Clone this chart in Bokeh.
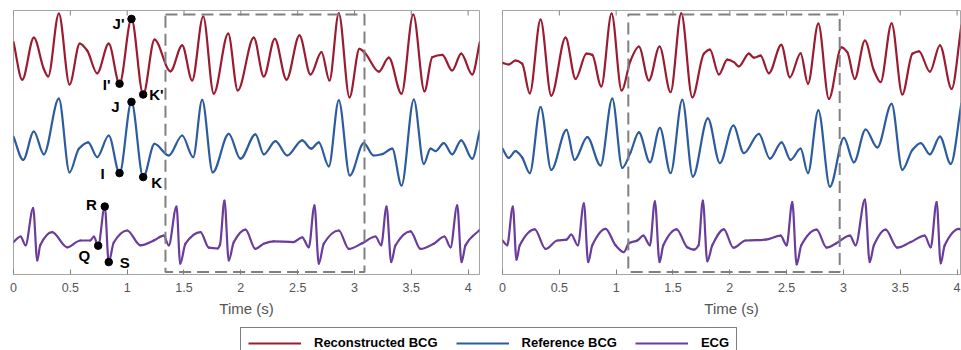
import numpy as np
from bokeh.plotting import figure
from bokeh.models import (Range1d, LinearAxis, FixedTicker, Legend, LegendItem,
                          ColumnDataSource, NumeralTickFormatter)
from bokeh.layouts import column, row
from bokeh.embed import file_html
from bokeh.resources import INLINE
from bokeh.core.properties import value

# ---------------- data (time in s, amplitude in a.u.) ----------------
tick_values = [0, 0.5, 1, 1.5, 2, 2.5, 3, 3.5, 4]

# Left panel
red_left_t = [0.0, 0.077, 0.179, 0.268, 0.305, 0.399, 0.493, 0.583, 0.648, 0.736, 0.838, 0.933, 1.038,
              1.141, 1.241, 1.381, 1.484, 1.572, 1.669, 1.762, 1.889, 1.973, 2.114, 2.202, 2.299, 2.402,
              2.516, 2.613, 2.710, 2.780, 2.862, 2.956, 3.044, 3.097, 3.214, 3.302, 3.414, 3.517, 3.616,
              3.684, 3.772, 3.860, 3.939, 4.036, 4.103]
red_left_a = [0.46, -0.48, 0.57, -0.22, -0.40, 1.17, -0.60, 0.42, 0.25, -0.32, 0.42, -0.58, 1.04,
              -0.85, 0.52, -0.27, 0.38, -0.50, 1.10, -0.83, 0.67, -0.75, 0.57, -0.40, 0.54, -0.48,
              0.63, -0.35, 0.21, -0.50, 1.18, -0.92, 0.29, 0.17, -0.28, 0.07, -0.83, 1.15, -0.77,
              0.08, 0.14, -0.25, 0.17, -0.35, 0.46]

blue_left_t = [0.0, 0.085, 0.179, 0.267, 0.399, 0.493, 0.575, 0.657, 0.736, 0.838, 0.933, 1.038, 1.141,
               1.241, 1.366, 1.484, 1.581, 1.660, 1.753, 1.894, 1.997, 2.129, 2.202, 2.305, 2.408,
               2.540, 2.619, 2.686, 2.774, 2.862, 2.959, 3.082, 3.167, 3.240, 3.332, 3.414, 3.522,
               3.610, 3.669, 3.713, 3.786, 3.860, 3.939, 4.036, 4.103]
blue_left_a = [0.22, -0.36, 0.35, -0.22, 1.17, -0.67, -0.08, 0.08, -0.29, 0.25, -0.69, 1.09, -0.79,
               0.04, -0.25, 0.25, -0.29, 1.14, -0.67, 0.29, -0.33, 0.28, -0.22, 0.11, -0.25,
               0.13, -0.08, 0.08, -0.52, 1.13, -0.75, 0.06, -0.25, -0.22, -0.08, -1.0, 1.15,
               -0.46, -0.08, -0.14, 0.06, -0.22, 0.13, -0.33, 0.38]

ecg_left_t = [0.0, 0.062, 0.106, 0.173, 0.209, 0.235, 0.340, 0.472, 0.589, 0.675, 0.707, 0.745, 0.803,
              0.838, 0.882, 1.000, 1.117, 1.234, 1.322, 1.366, 1.434, 1.467, 1.513, 1.645, 1.718, 1.795,
              1.817, 1.856, 1.894, 1.938, 2.041, 2.129, 2.202, 2.288, 2.463, 2.540, 2.598, 2.648, 2.686,
              2.730, 2.862, 2.950, 3.068, 3.185, 3.235, 3.282, 3.323, 3.361, 3.493, 3.581, 3.698, 3.792,
              3.845, 3.904, 3.942, 3.977, 4.103]
ecg_left_a = [-0.04, 0.10, -0.12, 0.81, -0.50, -0.12, 0.21, -0.17, 0.0, 0.0, 0.10, -0.13, 0.85,
              -0.54, -0.05, 0.25, -0.12, 0.0, 0.12, -0.12, 0.85, -0.58, -0.08, 0.21, -0.18, -0.20,
              -0.10, 1.0, -0.50, -0.04, 0.27, -0.21, -0.08, -0.02, -0.04, 0.08, -0.17, 0.88, -0.58,
              -0.08, 0.25, -0.21, -0.07, 0.10, -0.12, 0.85, -0.54, -0.12, 0.23, -0.21, -0.08, 0.10,
              -0.17, 0.88, -0.54, -0.12, 0.27]

# Right panel
red_right_t = [0.0, 0.055, 0.114, 0.173, 0.240, 0.335, 0.429, 0.555, 0.643, 0.739, 0.790, 0.869, 0.960,
               1.048, 1.127, 1.200, 1.288, 1.382, 1.479, 1.573, 1.670, 1.772, 1.825, 1.904, 1.978,
               2.036, 2.080, 2.168, 2.212, 2.271, 2.344, 2.453, 2.529, 2.623, 2.688, 2.779, 2.872,
               2.982, 3.034, 3.099, 3.189, 3.268, 3.327, 3.424, 3.518, 3.607, 3.665, 3.761, 3.849,
               3.952, 4.038]
red_right_a = [-0.06, -0.10, 0.0, -0.08, -0.82, 1.02, -0.88, 0.57, -0.46, 0.17, 0.14, -0.65, 1.17,
               -0.75, 0.0, 0.35, -0.50, 0.35, -0.79, 1.18, -0.92, 0.17, 0.27, -0.35, 0.02,
               -0.04, -0.15, 0.17, 0.07, 0.12, -0.32, 0.39, -0.42, 0.18, -0.58, 0.92, -0.96,
               0.33, 0.21, -0.46, 0.50, -0.25, -0.54, 0.93, -0.85, 0.17, 0.23, -0.28, 0.38,
               -0.71, 0.88]

blue_right_t = [0.0, 0.055, 0.114, 0.173, 0.240, 0.335, 0.429, 0.563, 0.634, 0.746, 0.863, 0.966,
                1.054, 1.127, 1.200, 1.297, 1.385, 1.479, 1.582, 1.675, 1.807, 1.913, 2.031, 2.124,
                2.256, 2.353, 2.456, 2.535, 2.623, 2.688, 2.779, 2.881, 3.004, 3.092, 3.195, 3.298,
                3.424, 3.518, 3.607, 3.680, 3.761, 3.849, 3.944, 4.038]
blue_right_a = [-0.08, -0.31, -0.14, -0.30, -0.69, 0.96, -0.61, 0.39, -0.36, 0.21, -0.50, 1.17,
                -0.56, -0.17, 0.33, -0.42, 0.44, -0.69, 1.14, -0.78, 0.68, -0.44, 0.50, -0.19,
                0.29, -0.33, 0.08, -0.36, -0.08, -0.69, 0.88, -1.03, 0.19, -0.42, 0.40, -0.05,
                1.04, -0.61, -0.11, 0.06, -0.22, 0.22, -0.46, 1.05]

ecg_right_t = [0.0, 0.041, 0.091, 0.123, 0.152, 0.284, 0.379, 0.482, 0.563, 0.605, 0.663, 0.716,
               0.754, 0.790, 0.907, 0.995, 1.068, 1.112, 1.186, 1.239, 1.297, 1.341, 1.382, 1.415,
               1.532, 1.626, 1.684, 1.725, 1.763, 1.802, 1.846, 1.948, 2.031, 2.139, 2.315, 2.447,
               2.500, 2.550, 2.588, 2.629, 2.764, 2.852, 2.931, 3.057, 3.107, 3.189, 3.231, 3.268,
               3.371, 3.474, 3.592, 3.715, 3.768, 3.820, 3.856, 3.891, 4.017, 4.038]
ecg_right_a = [0.0, -0.12, 0.85, -0.48, -0.12, 0.28, -0.21, 0.0, 0.02, 0.15, -0.12, 0.93,
               -0.54, -0.12, 0.29, -0.12, -0.29, -0.07, 0.0, 0.12, -0.12, 0.98, -0.54, -0.12,
               0.28, -0.17, -0.23, -0.12, 1.0, -0.52, -0.12, 0.28, -0.18, 0.0, 0.02, 0.12,
               -0.12, 0.96, -0.60, -0.12, 0.27, -0.18, -0.08, 0.12, -0.12, 1.02, -0.54, -0.12,
               0.27, -0.18, -0.04, 0.12, -0.17, 0.96, -0.57, -0.12, 0.29, 0.26]

# Highlighted windows (s)
window_left = [1.337, 3.088]
window_right = [1.107, 2.967]

# Fiducial annotations on the left panel
ann_labels = ["J'", "I'", "K'", "J", "I", "K", "R", "Q", "S"]
ann_trace = ["red", "red", "red", "blue", "blue", "blue", "ecg", "ecg", "ecg"]
ann_time = [1.038, 0.933, 1.141, 1.038, 0.933, 1.141, 0.803, 0.745, 0.838]

series_names = ["Reconstructed BCG", "Reference BCG", "ECG"]

# ---------------- styling ----------------
RED = "#9B1C31"
BLUE = "#2C5C9F"
PURPLE = "#6A3C9C"
FRAME = "#a6a6a6"
TXT = "#555555"
FONT = "Liberation Sans"
OFFSET = {"red": 5.35, "blue": 3.225, "ecg": 0.85}
COLOR = {"red": RED, "blue": BLUE, "ecg": PURPLE}
Y_TOP = 6.6
FRAME_H = 264
TICK_PX = 5
WIN_BOTTOM, WIN_TOP = 0.06, 6.5
LW = 2.2


def bezier_cds(t, a, off):
    """Smooth (shape-preserving) cubic Bezier pieces through the read points."""
    x = np.asarray(t, float)
    y = np.asarray(a, float) + off
    n = len(x)
    h = np.diff(x)
    d = np.diff(y) / h
    m = np.zeros(n)
    m[0], m[-1] = d[0], d[-1]
    for i in range(1, n - 1):
        if d[i - 1] * d[i] <= 0:
            m[i] = 0.0
        else:
            w1 = 2 * h[i] + h[i - 1]
            w2 = h[i] + 2 * h[i - 1]
            m[i] = (w1 + w2) / (w1 / d[i - 1] + w2 / d[i])
    return ColumnDataSource(dict(
        x0=x[:-1], y0=y[:-1], x1=x[1:], y1=y[1:],
        cx0=x[:-1] + h / 3, cy0=y[:-1] + m[:-1] * h / 3,
        cx1=x[1:] - h / 3, cy1=y[1:] - m[1:] * h / 3))


def make_panel(width, bl, br, xmax, traces, window):
    p = figure(width=width, height=320, x_range=Range1d(0, xmax), y_range=Range1d(0, Y_TOP),
               x_axis_location=None, y_axis_location=None, toolbar_location=None,
               output_backend="svg", min_border_left=bl, min_border_right=br,
               min_border_top=10, min_border_bottom=46)
    p.outline_line_color = FRAME
    p.outline_line_width = 1
    p.grid.visible = False
    p.background_fill_color = "white"
    p.border_fill_color = "white"

    ax = LinearAxis(ticker=FixedTicker(ticks=tick_values),
                    formatter=NumeralTickFormatter(format="0.[0]"))
    ax.axis_line_color = FRAME
    ax.major_tick_in = TICK_PX
    ax.major_tick_out = 0
    ax.major_tick_line_color = "#808080"
    ax.minor_tick_line_color = None
    ax.major_label_text_font = FONT
    ax.major_label_text_font_size = "12.5px"
    ax.major_label_text_color = TXT
    ax.major_label_standoff = 8
    ax.axis_label = "Time (s)"
    ax.axis_label_text_font = FONT
    ax.axis_label_text_font_size = "15px"
    ax.axis_label_text_font_style = "normal"
    ax.axis_label_text_color = TXT
    ax.axis_label_standoff = 5
    p.add_layout(ax, "below")

    # inward ticks along the top edge of the box
    n = len(tick_values)
    p.segment(x0=tick_values, x1=tick_values, y0=[Y_TOP] * n,
              y1=[Y_TOP - TICK_PX * Y_TOP / FRAME_H] * n, line_color="#808080", line_width=1)

    for key, (t, a) in traces.items():
        p.bezier(x0="x0", y0="y0", x1="x1", y1="y1", cx0="cx0", cy0="cy0", cx1="cx1", cy1="cy1",
                 source=bezier_cds(t, a, OFFSET[key]), line_color=COLOR[key], line_width=LW,
                 line_cap="round")
    p.quad(left=[window[0]], right=[window[1]], bottom=[WIN_BOTTOM], top=[WIN_TOP],
           fill_color=None, line_color="#808080", line_width=2, line_dash="12 6")
    return p


left_traces = {"red": (red_left_t, red_left_a), "blue": (blue_left_t, blue_left_a),
               "ecg": (ecg_left_t, ecg_left_a)}
right_traces = {"red": (red_right_t, red_right_a), "blue": (blue_right_t, blue_right_a),
                "ecg": (ecg_right_t, ecg_right_a)}

p1 = make_panel(490, 13, 11, 4.1, left_traces, window_left)
p2 = make_panel(471, 12, 1, 4.03, right_traces, window_right)

# annotations (markers sit on the read trace points)
label_style = {  # label: (dx px, dy px, align)
    "J'": (-7, 5, "right"), "I'": (-9, 1, "right"), "K'": (6, 0, "left"),
    "J": (-12, 5, "right"), "I": (-15, 0, "right"), "K": (8, 5, "left"),
    "R": (-8, -2, "right"), "Q": (-8, 10, "right"), "S": (11, 0, "left"),
}
ax_, ay_ = [], []
for lab, tr, tm in zip(ann_labels, ann_trace, ann_time):
    tt, aa = left_traces[tr]
    idx = int(np.argmin(np.abs(np.asarray(tt) - tm)))
    ax_.append(tt[idx])
    ay_.append(aa[idx] + OFFSET[tr])
p1.scatter(ax_, ay_, size=7.5, color="black")
for align in ("left", "right"):
    sel = [i for i, lab in enumerate(ann_labels) if label_style[lab][2] == align]
    src = ColumnDataSource(dict(
        x=[ax_[i] for i in sel], y=[ay_[i] for i in sel],
        text=[ann_labels[i] for i in sel],
        dx=[label_style[ann_labels[i]][0] for i in sel],
        dy=[label_style[ann_labels[i]][1] for i in sel]))
    p1.text(x="x", y="y", text="text", x_offset="dx", y_offset="dy", source=src,
            text_align=align, text_baseline="middle", text_font=value(FONT),
            text_font_style="bold", text_font_size="15px", text_color="black")

# legend strip (the series are drawn here outside the visible range; only the key shows)
pl = figure(width=961, height=30, x_range=Range1d(-20, -19), y_range=Range1d(0, 1),
            x_axis_location=None, y_axis_location=None, toolbar_location=None,
            output_backend="svg", min_border_left=240, min_border_top=7,
            min_border_right=0, min_border_bottom=0)
pl.outline_line_color = None
pl.grid.visible = False
items = []
for name, col, key in zip(series_names, [RED, BLUE, PURPLE], ["red", "blue", "ecg"]):
    t, a = left_traces[key]
    r = pl.line(x=t, y=a, line_color=col, line_width=2)
    items.append(LegendItem(label=name, renderers=[r]))
leg = Legend(items=items, location="top_left", orientation="horizontal", margin=0, padding=7,
             spacing=18, glyph_width=53, glyph_height=12, label_height=12, label_standoff=13,
             label_text_font=FONT, label_text_font_style="bold", label_text_font_size="13px",
             label_text_color="black", border_line_color="black", border_line_width=1.3,
             background_fill_color="white")
pl.add_layout(leg)

layout = column(row(p1, p2), pl)
open("out.html", "w").write(file_html(layout, INLINE))
